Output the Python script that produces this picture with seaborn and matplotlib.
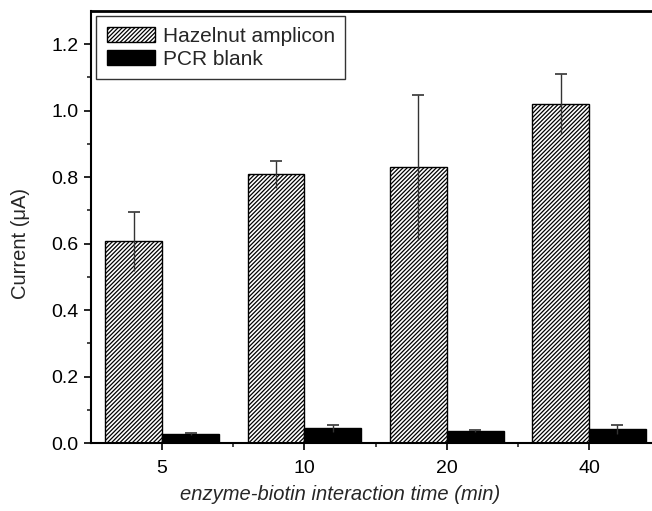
import matplotlib
matplotlib.use("Agg")
import matplotlib.pyplot as plt
import seaborn as sns
import pandas as pd
import numpy as np

times = ["5", "10", "20", "40"]
hazelnut = [0.607, 0.808, 0.830, 1.020]
hazelnut_err = [0.088, 0.040, 0.218, 0.090]
blank = [0.027, 0.044, 0.036, 0.041]
blank_err = [0.003, 0.010, 0.003, 0.014]
groups = ["Hazelnut amplicon", "PCR blank"]

sns.set_style("ticks")
plt.rcParams["font.family"] = ["Liberation Sans", "DejaVu Sans"]
plt.rcParams["hatch.linewidth"] = 0.9

df = pd.DataFrame({
    "time": times * 2,
    "group": [groups[0]] * 4 + [groups[1]] * 4,
    "current": hazelnut + blank,
})

W, H = 652, 511
fig = plt.figure(figsize=(W / 100, H / 100), dpi=100)
ax = fig.add_axes([91 / W, 1 - 443 / H, 1 - 91 / W, (443 - 11) / H])

sns.barplot(data=df, x="time", y="current", hue="group", order=times,
            hue_order=groups, palette=["white", "black"], edgecolor="black",
            linewidth=1.0, width=0.8, errorbar=None, legend=False, ax=ax)

for p in ax.containers[0]:
    p.set_hatch("////////")

for cont, errs in zip(ax.containers, [hazelnut_err, blank_err]):
    for p, e in zip(cont, errs):
        xc = p.get_x() + p.get_width() / 2
        h = p.get_height()
        ax.vlines(xc, h - e, h + e, color="#333333", lw=1.0, zorder=5)
        ax.plot([xc], [h + e], marker="_", ms=9, mew=1.2, color="#333333", zorder=5)

ax.set_xlim(-0.5, 3.443)
ax.set_ylim(0, 1.3)
ax.set_yticks(np.arange(0, 1.21, 0.2))
ax.set_yticklabels([f"{v:.1f}" for v in np.arange(0, 1.21, 0.2)])
ax.set_yticks(np.arange(0.1, 1.3, 0.2), minor=True)
ax.set_xticks([0.5, 1.5, 2.5], minor=True)

ax.tick_params(axis="both", which="major", direction="out", length=5, width=1.2,
               labelsize=14, colors="black")
ax.tick_params(axis="both", which="minor", direction="out", length=3, width=1.2)
ax.tick_params(axis="x", pad=7)
ax.tick_params(axis="y", pad=4)

for s in ["left", "bottom", "top"]:
    ax.spines[s].set_visible(True)
    ax.spines[s].set_linewidth(1.5)
    ax.spines[s].set_color("black")
ax.spines["top"].set_linewidth(2.0)
ax.spines["right"].set_visible(False)

ax.set_xlabel("")
ax.set_ylabel("")
fig.text(340 / W, 1 - 494 / H, "enzyme-biotin interaction time (min)", fontsize=14.5,
         style="italic", ha="center", va="center")
fig.text(21 / W, 1 - 243 / H, "Current (μA)", fontsize=14.5, rotation=90,
         ha="center", va="center")

leg = ax.legend(handles=list(ax.containers), labels=groups, loc="upper left",
                fontsize=15, frameon=True, fancybox=False, edgecolor="black",
                borderaxespad=0.25, handlelength=2.3, handleheight=0.75,
                handletextpad=0.4, borderpad=0.5, labelspacing=0.2)
leg.get_frame().set_linewidth(1.0)

fig.savefig("out.png", dpi=100)
